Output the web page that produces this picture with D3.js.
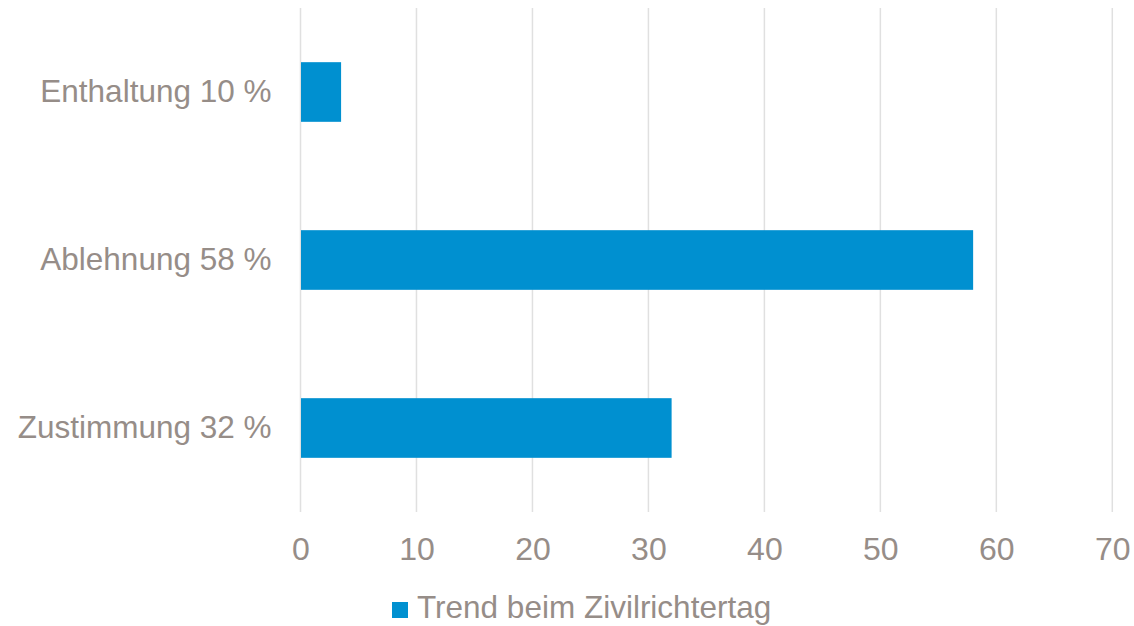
<!DOCTYPE html>
<html>
<head>
<meta charset="utf-8">
<script src="https://cdn.jsdelivr.net/npm/d3@7"></script>
<style>
  body { margin: 0; background: #fff; }
  text { font-family: "Liberation Sans", Arial, sans-serif; fill: #968d88; }
</style>
</head>
<body>
<div id="chart"></div>
<script>
// data
var categories = ["Enthaltung 10 %", "Ablehnung 58 %", "Zustimmung 32 %"];
var values = [3.5, 58, 32];
var xTicks = [0, 10, 20, 30, 40, 50, 60, 70];
var seriesName = "Trend beim Zivilrichtertag";

var W = 1134, H = 626;
var margin = { left: 300.5, right: 21.7, top: 8, bottom: 114 };
var width = W - margin.left - margin.right,
    height = H - margin.top - margin.bottom;

var svg = d3.select("#chart")
  .append("svg")
    .attr("width", W)
    .attr("height", H);

var g = svg.append("g")
    .attr("transform", "translate(" + margin.left + "," + margin.top + ")");

var x = d3.scaleLinear().domain([0, 70]).range([0, width]);
var y = d3.scaleBand().domain(categories).range([0, height])
    .paddingInner(0.645).paddingOuter(0.3225);

// gridlines
g.selectAll(".grid")
  .data(xTicks)
  .enter().append("line")
    .attr("class", "grid")
    .attr("x1", function(d) { return x(d); })
    .attr("x2", function(d) { return x(d); })
    .attr("y1", 0)
    .attr("y2", height)
    .attr("stroke", "#e0e0e0")
    .attr("stroke-width", 1.5);

// bars
g.selectAll(".bar")
  .data(values)
  .enter().append("rect")
    .attr("class", "bar")
    .attr("x", x(0) + 0.5)
    .attr("y", function(d, i) { return y(categories[i]); })
    .attr("width", function(d) { return x(d) - x(0) - 0.5; })
    .attr("height", y.bandwidth())
    .attr("fill", "#0090d0");

// x axis
var xAxis = g.append("g")
    .attr("transform", "translate(0," + height + ")")
    .call(d3.axisBottom(x).tickValues(xTicks).tickSize(0).tickPadding(25));
xAxis.select(".domain").remove();
xAxis.selectAll("text")
    .style("font-size", "32px")
    .attr("fill", "#968d88")
    .attr("dy", "0.71em");

// y axis
var yAxis = g.append("g")
    .call(d3.axisLeft(y).tickSize(0).tickPadding(29));
yAxis.select(".domain").remove();
yAxis.selectAll("text")
    .style("font-size", "31.5px")
    .attr("fill", "#968d88");

// legend
var legend = svg.append("g").attr("transform", "translate(392,602)");
legend.append("rect")
    .attr("width", 16)
    .attr("height", 16)
    .attr("fill", "#0090d0");
legend.append("text")
    .attr("x", 25)
    .attr("y", 16)
    .style("font-size", "31.5px")
    .text(seriesName);
</script>
</body>
</html>
